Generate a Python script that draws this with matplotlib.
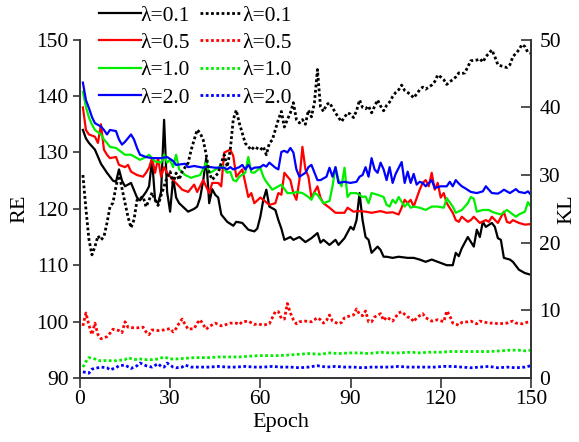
import matplotlib
matplotlib.use("Agg")
import matplotlib.pyplot as plt

plt.rcParams['font.family'] = ['Liberation Serif', 'DejaVu Serif']
plt.rcParams['font.size'] = 15

labels = ['λ=0.1', 'λ=0.5', 'λ=1.0', 'λ=2.0']
colors = ['#000000', '#ff0000', '#00ee00', '#0000ff']

# RE (left axis), solid lines: (epoch, value)
re_01 = [(1,134.0),(2,132.5),(3,131.7),(5,130.5),(7,128.0),(9,126.4),(11,125.0),(12,124.8),(13,127.0),(14,125.0),
         (15,124.0),(17,124.6),(19,122.0),(20,121.5),(22,123.0),(23,124.0),(24,128.7),(25,121.6),(26,121.0),(27,123.0),
         (28,135.8),(29,123.0),(30,119.5),(31,125.5),(32,122.0),(33,121.0),(35,120.0),(36,119.5),(38,120.0),(39,120.4),
         (40,122.0),(41,125.0),(42,129.0),(43,121.0),(44,123.5),(45,122.5),(46,122.0),(47,119.0),(49,117.7),(51,117.0),
         (52,117.7),(54,117.5),(56,116.3),(58,116.0),(59,116.5),(60,118.6),(61,121.6),(62,123.4),(63,120.4),(65,119.8),
         (66,118.0),(67,116.5),(68,114.5),(70,115.0),(71,114.5),(73,115.0),(75,114.1),(77,114.8),(79,115.7),(80,114.0),
         (81,114.5),(83,113.6),(85,114.5),(86,113.6),(88,114.8),(90,116.8),(91,116.3),(92,118.0),(93,122.8),(94,118.0),
         (95,115.0),(96,114.5),(97,112.2),(99,113.3),(100,112.7),(101,111.5),(102,111.5),(104,111.3),(106,111.5),(109,111.3),
         (111,111.3),(113,111.0),(115,110.6),(117,111.0),(120,110.4),(122,110.0),(124,110.0),(125,112.2),(126,111.6),(127,113.0),
         (128,114.0),(129,115.0),(131,113.3),(132,116.3),(133,115.0),(134,117.7),(135,116.8),(137,117.5),(138,116.8),(139,114.8),
         (140,114.5),(141,111.3),(143,111.0),(144,110.6),(146,109.2),(148,108.6),(150,108.3)]
re_05 = [(1,138.0),(2,134.0),(3,133.2),(5,132.8),(6,131.7),(7,135.0),(8,130.5),(9,129.6),(10,129.0),(12,129.2),
         (13,127.8),(15,127.4),(16,127.8),(17,126.6),(19,126.0),(21,125.7),(22,126.4),(23,127.3),(24,129.0),(25,126.4),
         (26,129.0),(27,125.7),(28,127.4),(29,126.4),(31,125.1),(33,124.0),(34,123.4),(36,123.0),(38,124.3),(39,123.0),
         (41,125.1),(43,122.8),(44,124.6),(46,124.6),(47,124.0),(48,130.0),(50,130.5),(51,129.4),(52,125.7),(54,127.0),
         (55,124.6),(56,122.1),(57,122.8),(58,121.0),(60,122.0),(61,121.6),(63,120.7),(65,121.0),(66,122.8),(67,122.5),
         (68,126.4),(70,125.1),(71,122.8),(72,121.6),(73,125.1),(74,131.0),(75,127.0),(76,125.7),(77,122.0),(79,124.0),
         (80,122.0),(81,121.0),(83,120.2),(85,119.3),(86,119.3),(88,119.3),(89,120.2),(91,119.5),(93,119.6),(95,119.5),
         (97,119.3),(100,119.6),(102,119.3),(104,119.4),(106,119.0),(107,120.2),(108,121.6),(109,121.0),(110,121.6),(111,120.4),
         (113,123.4),(114,124.6),(115,125.1),(116,124.0),(117,126.4),(118,123.4),(119,124.6),(120,122.0),(121,122.8),(122,121.0),
         (124,119.3),(125,118.0),(126,117.7),(127,118.6),(129,117.7),(130,118.0),(131,118.6),(133,117.5),(135,118.0),(136,117.7),
         (137,118.6),(139,117.5),(141,119.5),(142,117.7),(143,117.5),(144,118.0),(146,117.5),(148,117.2),(150,117.3)]
re_10 = [(1,140.8),(2,138.1),(3,136.2),(4,135.0),(5,134.0),(7,133.2),(8,132.3),(9,131.7),(10,131.0),(12,130.8),
         (14,130.0),(15,129.6),(17,129.6),(19,129.0),(20,128.7),(22,129.2),(23,129.6),(25,128.4),(27,128.2),(28,129.6),
         (29,128.2),(30,128.7),(31,127.4),(32,129.6),(33,127.0),(35,126.0),(37,125.5),(38,125.7),(40,126.0),(42,128.2),
         (43,126.4),(44,126.6),(46,127.3),(47,127.8),(49,126.4),(50,126.6),(51,125.1),(52,124.9),(53,125.7),(55,126.4),
         (56,129.2),(57,126.5),(58,126.4),(60,127.3),(61,125.7),(62,124.8),(64,123.4),(66,124.0),(67,124.3),(69,122.8),
         (71,122.8),(72,123.0),(74,122.8),(76,122.1),(77,121.6),(78,122.8),(79,122.5),(81,121.0),(83,121.4),(84,124.0),
         (85,127.4),(86,125.1),(87,124.0),(88,127.3),(89,122.1),(90,122.8),(92,122.8),(94,122.1),(95,122.2),(96,121.0),
         (97,122.8),(99,122.5),(101,122.1),(102,120.7),(103,120.4),(104,121.6),(105,121.0),(106,122.1),(108,120.4),(109,121.0),
         (110,120.2),(111,120.4),(113,120.2),(115,119.8),(117,120.4),(119,120.4),(121,120.2),(122,121.9),(124,120.4),(125,119.3),
         (127,119.8),(128,120.4),(129,121.0),(130,122.1),(131,121.8),(132,119.5),(134,119.8),(136,119.8),(137,119.5),(138,119.3),
         (140,119.0),(142,119.8),(144,119.0),(145,118.6),(146,119.0),(148,119.5),(149,121.2),(150,120.4)]
re_20 = [(1,142.4),(2,139.3),(3,137.9),(4,136.3),(5,135.2),(7,134.6),(8,134.0),(9,133.2),(10,134.0),(12,133.8),
         (13,132.3),(14,131.4),(15,131.9),(17,133.2),(18,132.3),(19,130.8),(20,129.6),(22,129.2),(24,129.0),(25,129.0),
         (27,129.0),(29,129.2),(31,128.5),(32,127.8),(35,128.0),(36,127.4),(38,127.6),(40,127.4),(41,127.3),(42,127.5),
         (45,127.3),(47,127.3),(48,127.3),(49,127.0),(50,127.4),(51,127.0),(53,127.4),(54,127.8),(55,127.0),(56,127.8),
         (57,127.0),(58,127.3),(60,127.4),(61,127.8),(62,127.5),(63,128.2),(65,127.3),(66,127.0),(67,130.1),(68,130.3),
         (69,130.0),(70,130.8),(71,130.0),(72,127.0),(73,125.7),(75,126.4),(76,127.4),(77,127.8),(79,125.1),(80,125.1),
         (82,125.7),(83,127.3),(84,125.7),(85,127.4),(86,124.6),(88,124.8),(90,124.6),(92,124.8),(93,125.7),(94,126.0),
         (95,127.4),(96,125.7),(97,129.0),(98,127.0),(99,126.4),(100,128.2),(101,127.0),(102,125.1),(103,127.4),(104,124.6),
         (105,126.2),(107,128.3),(108,124.6),(109,126.6),(110,124.6),(111,126.2),(112,124.3),(113,124.8),(114,124.6),(115,124.0),
         (117,125.1),(118,123.7),(120,124.0),(122,124.0),(123,124.8),(124,124.0),(125,125.1),(126,124.5),(127,124.0),(128,123.7),
         (130,123.0),(132,122.8),(134,123.1),(135,124.0),(137,122.8),(139,122.7),(140,123.0),(141,123.4),(143,122.8),(145,123.5),
         (146,123.0),(148,122.8),(149,123.1),(150,122.5)]

# KL (right axis), dotted lines: (epoch, value)
kl_01 = [(1,30.0),(2,25.0),(3,20.5),(4,18.2),(5,19.4),(6,21.0),(7,20.4),(8,20.9),(9,22.9),(10,25.3),
         (11,25.9),(12,28.3),(13,30.3),(14,28.0),(15,25.9),(16,23.8),(17,22.2),(18,23.4),(19,26.3),(21,26.8),
         (22,25.3),(23,26.3),(24,27.4),(25,26.3),(26,25.5),(27,27.0),(28,28.3),(29,29.7),(30,30.5),(31,28.8),
         (32,30.3),(33,29.3),(34,30.5),(36,31.8),(37,33.7),(38,35.2),(39,36.7),(40,36.2),(41,35.2),(42,33.0),
         (43,30.3),(44,29.3),(46,30.3),(47,31.8),(48,33.0),(49,31.2),(50,33.7),(51,38.2),(52,39.6),(53,37.7),
         (54,36.2),(55,34.7),(56,34.2),(57,33.7),(58,34.2),(60,33.7),(61,34.2),(62,33.0),(63,34.7),(64,35.2),
         (65,36.7),(66,38.2),(67,39.4),(68,37.1),(69,38.2),(70,39.2),(71,40.7),(72,38.2),(73,37.7),(74,38.2),
         (75,37.5),(76,39.6),(77,38.6),(78,40.7),(79,45.6),(80,40.1),(81,39.4),(82,40.4),(83,40.7),(85,39.2),
         (86,38.5),(87,37.9),(89,39.2),(90,39.0),(91,38.5),(92,39.5),(93,41.1),(94,40.0),(95,39.8),(96,40.2),
         (97,39.2),(99,41.1),(100,40.2),(101,39.5),(102,40.3),(103,40.8),(104,41.6),(105,42.2),(106,42.6),(107,43.3),
         (108,42.5),(109,42.2),(110,41.9),(111,41.4),(113,42.6),(114,43.0),(115,42.7),(117,43.3),(118,43.8),(119,44.8),
         (120,44.5),(121,44.1),(122,43.4),(123,43.8),(124,44.1),(125,44.5),(126,45.1),(127,45.0),(128,45.1),(129,46.0),
         (130,46.9),(132,47.0),(133,47.2),(134,46.7),(135,47.5),(137,48.5),(138,47.5),(139,46.3),(141,46.0),(142,45.9),
         (143,46.3),(144,47.5),(146,48.5),(147,49.3),(148,49.0),(149,48.1),(150,48.0)]
kl_05 = [(1,7.7),(2,9.6),(3,7.8),(4,6.4),(5,8.1),(6,6.4),(7,5.8),(9,6.1),(10,6.6),(11,7.2),
         (13,7.0),(14,6.7),(15,8.3),(16,7.5),(18,7.4),(19,7.4),(21,7.5),(22,6.8),(23,6.4),(24,7.1),
         (26,7.0),(28,7.1),(30,7.3),(31,6.8),(32,7.3),(33,8.1),(34,8.7),(35,7.9),(36,7.2),(38,7.3),
         (39,8.1),(40,8.6),(41,7.9),(42,7.2),(43,7.6),(45,8.1),(47,7.7),(48,7.8),(50,8.1),(52,8.1),
         (53,7.9),(54,8.3),(56,8.4),(58,7.9),(59,8.0),(61,7.8),(63,8.0),(64,8.9),(65,9.8),(66,9.8),
         (67,8.8),(68,8.7),(69,11.0),(70,9.6),(71,8.6),(72,8.0),(73,8.3),(75,8.4),(77,8.3),(79,8.9),
         (80,8.6),(81,8.1),(82,8.5),(83,9.3),(84,8.4),(86,8.0),(87,8.2),(88,8.9),(90,9.2),(91,9.3),
         (92,10.2),(93,9.4),(94,9.2),(95,9.9),(96,8.3),(97,8.3),(98,9.0),(100,9.5),(101,8.5),(102,9.0),
         (104,8.4),(106,9.6),(107,9.8),(109,9.0),(110,8.9),(111,8.3),(112,8.9),(114,9.5),(115,8.9),(117,8.4),
         (119,8.6),(121,8.3),(122,9.9),(123,9.2),(124,8.1),(126,7.8),(127,8.2),(129,8.3),(130,8.4),(132,8.0),
         (133,8.4),(136,8.1),(137,8.1),(138,8.1),(139,8.0),(142,8.1),(143,8.3),(144,8.4),(145,8.1),(147,8.0),
         (150,8.4)]
kl_10 = [(1,1.6),(2,2.4),(3,3.0),(4,2.9),(5,2.8),(7,2.5),(9,2.6),(11,2.5),(13,2.6),(15,2.7),
         (16,3.0),(18,2.7),(20,2.8),(22,2.7),(24,2.7),(26,2.8),(28,3.1),(30,2.8),(32,2.8),(35,2.9),
         (38,3.0),(40,3.0),(43,3.0),(46,3.1),(50,3.1),(53,3.1),(56,3.2),(60,3.3),(63,3.3),(66,3.3),
         (70,3.4),(73,3.5),(76,3.6),(80,3.5),(83,3.7),(86,3.6),(90,3.7),(93,3.7),(96,3.6),(100,3.8),
         (103,3.7),(106,3.7),(110,3.8),(113,3.7),(116,3.8),(120,3.8),(123,3.9),(126,3.9),(130,3.9),(133,3.9),
         (136,3.9),(140,4.0),(143,4.1),(146,4.1),(148,4.0),(150,4.1)]
kl_20 = [(1,0.9),(3,0.7),(4,1.3),(5,1.4),(7,1.6),(9,1.5),(10,1.2),(12,1.5),(13,1.8),(15,1.9),
         (17,1.4),(19,1.8),(20,2.2),(22,1.8),(24,1.6),(26,2.1),(27,1.7),(28,1.6),(29,2.2),(30,1.9),
         (31,1.6),(32,1.5),(34,1.6),(35,1.9),(37,1.6),(40,1.6),(43,1.6),(46,1.7),(49,1.6),(52,1.6),
         (55,1.7),(58,1.6),(61,1.6),(64,1.7),(67,1.6),(70,1.6),(73,1.5),(76,1.6),(79,1.8),(82,1.6),
         (85,1.7),(88,1.6),(91,1.6),(94,1.5),(97,1.6),(100,1.6),(103,1.6),(106,1.7),(109,1.6),(112,1.6),
         (115,1.6),(118,1.6),(121,1.7),(124,1.7),(127,1.6),(130,1.5),(133,1.6),(136,1.7),(139,1.5),(142,1.6),
         (145,1.5),(148,1.6),(150,1.8)]

x_ticks = [0, 30, 60, 90, 120, 150]
re_ticks = [90, 100, 110, 120, 130, 140, 150]
kl_ticks = [0, 10, 20, 30, 40, 50]

fig = plt.figure(figsize=(5.79, 4.42), dpi=100)
ax = fig.add_axes([0.138, 0.145, 0.779, 0.765])
ax2 = ax.twinx()

handles_solid, handles_dot = [], []
for s, lab, c in zip([re_01, re_05, re_10, re_20], labels, colors):
    xs, ys = zip(*s)
    h, = ax.plot(xs, ys, color=c, lw=1.6, label=lab)
    handles_solid.append(h)
for s, lab, c in zip([kl_01, kl_05, kl_10, kl_20], labels, colors):
    xs, ys = zip(*s)
    h, = ax2.plot(xs, ys, color=c, lw=2.0, linestyle=(0, (1, 0.9)), label=lab)
    handles_dot.append(h)

ax.set_xlim(0, 150)
ax.set_ylim(90, 150)
ax2.set_ylim(0, 50)
ax.set_xticks(x_ticks)
ax.set_yticks(re_ticks)
ax2.set_yticks(kl_ticks)

spine_c = '#333333'
for a in (ax, ax2):
    a.spines['top'].set_visible(False)
    for sp in ['left', 'right', 'bottom']:
        a.spines[sp].set_color(spine_c)
        a.spines[sp].set_linewidth(1.2)
ax.tick_params(axis='y', direction='out', length=5, width=1.2, color=spine_c, labelsize=15.5, pad=3)
ax.tick_params(axis='x', direction='out', length=7, width=1.2, color=spine_c, labelsize=15.5, pad=2)
ax2.tick_params(axis='y', direction='in', length=7, width=1.2, color=spine_c, labelsize=15.5, pad=6)

ax.set_xlabel('Epoch', fontsize=16)
ax.xaxis.set_label_coords(0.445, -0.105)
ax.set_ylabel('RE', fontsize=16)
ax.yaxis.set_label_coords(-0.113, 0.5)
ax2.set_ylabel('KL', fontsize=16)
ax2.yaxis.set_label_coords(1.058, 0.5)

leg = ax2.legend(handles_solid + handles_dot, labels + labels, ncol=2, loc='upper left',
                 bbox_to_anchor=(0.165, 0.995), bbox_transform=fig.transFigure, frameon=False,
                 fontsize=15.5, handlelength=1.95, handletextpad=0.0, columnspacing=0.45,
                 labelspacing=0.34, borderpad=0.15, borderaxespad=0)

fig.savefig('out.png', dpi=100)
